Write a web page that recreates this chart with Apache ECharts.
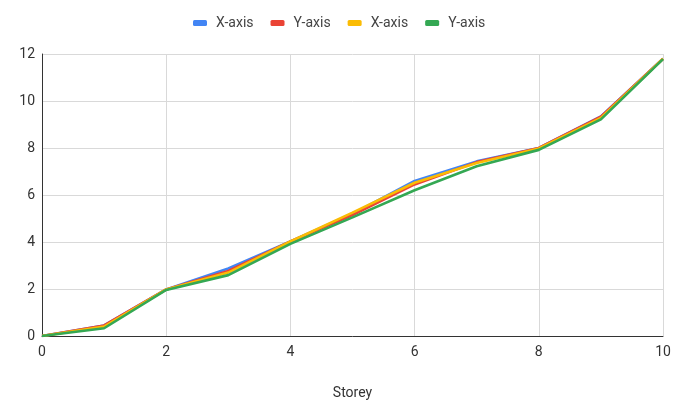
<!DOCTYPE html>
<html>
<head>
<meta charset="utf-8">
<script src="https://cdn.jsdelivr.net/npm/echarts@6/dist/echarts.min.js"></script>
<style>
  html, body { margin: 0; padding: 0; background: #fff; }
  #chart { width: 684px; height: 405px; }
</style>
</head>
<body>
<div id="chart"></div>
<script>
// Storey numbers along the horizontal axis
const storeys = [0, 1, 2, 3, 4, 5, 6, 7, 8, 9, 10];

// Four measured series
const seriesNames = ['X-axis', 'Y-axis', 'X-axis ', 'Y-axis '];
const legendLabels = ['X-axis', 'Y-axis', 'X-axis', 'Y-axis'];
const blueValues   = [0, 0.45, 1.98, 2.87, 4.02, 5.2, 6.6, 7.43, 8.0, 9.34, 11.8];
const redValues    = [0, 0.45, 1.98, 2.77, 4.02, 5.15, 6.45, 7.4, 8.0, 9.33, 11.8];
const yellowValues = [0, 0.4, 1.98, 2.7, 4.02, 5.25, 6.52, 7.36, 7.98, 9.28, 11.8];
const greenValues  = [0, 0.33, 1.96, 2.59, 3.92, 5.05, 6.2, 7.22, 7.92, 9.22, 11.78];

const colors = ['#4285F4', '#EA4335', '#FBBC04', '#34A853'];
const allValues = [blueValues, redValues, yellowValues, greenValues];

const chart = echarts.init(document.getElementById('chart'), null, { renderer: 'canvas' });

const series = allValues.map((vals, i) => ({
  name: seriesNames[i],
  type: 'line',
  data: storeys.map((s, j) => [s, vals[j]]),
  showSymbol: false,
  symbol: 'none',
  lineStyle: { width: 2.6, color: colors[i] },
  itemStyle: { color: colors[i] },
  z: 2 + i
}));

chart.setOption({
  animation: false,
  textStyle: { fontFamily: 'Roboto, sans-serif' },
  legend: {
    top: 11,
    left: 188,
    data: seriesNames.map((n, i) => ({ name: n, icon: 'roundRect' })),
    formatter: name => legendLabels[seriesNames.indexOf(name)],
    itemWidth: 14,
    itemHeight: 6,
    itemGap: 17,
    textStyle: { fontSize: 14, color: '#444', fontFamily: 'Roboto, sans-serif', padding: [0, 0, 0, 4] }
  },
  grid: { left: 42, right: 21, top: 54, bottom: 68, containLabel: false },
  xAxis: {
    type: 'value',
    min: 0, max: 10, interval: 2,
    name: 'Storey',
    nameLocation: 'middle',
    nameGap: 50,
    nameTextStyle: { fontSize: 14, color: '#333' },
    axisLine: { show: true, lineStyle: { color: '#333', width: 1 } },
    axisTick: { show: false },
    axisLabel: { fontSize: 14, color: '#333', margin: 9 },
    splitLine: { show: true, lineStyle: { color: '#d9d9d9', width: 1 } }
  },
  yAxis: {
    type: 'value',
    min: 0, max: 12, interval: 2,
    axisLine: { show: true, lineStyle: { color: '#333', width: 1 } },
    axisTick: { show: false },
    axisLabel: { fontSize: 14, color: '#333', margin: 7 },
    splitLine: { show: true, lineStyle: { color: '#d9d9d9', width: 1 } }
  },
  series: series
});
</script>
</body>
</html>
